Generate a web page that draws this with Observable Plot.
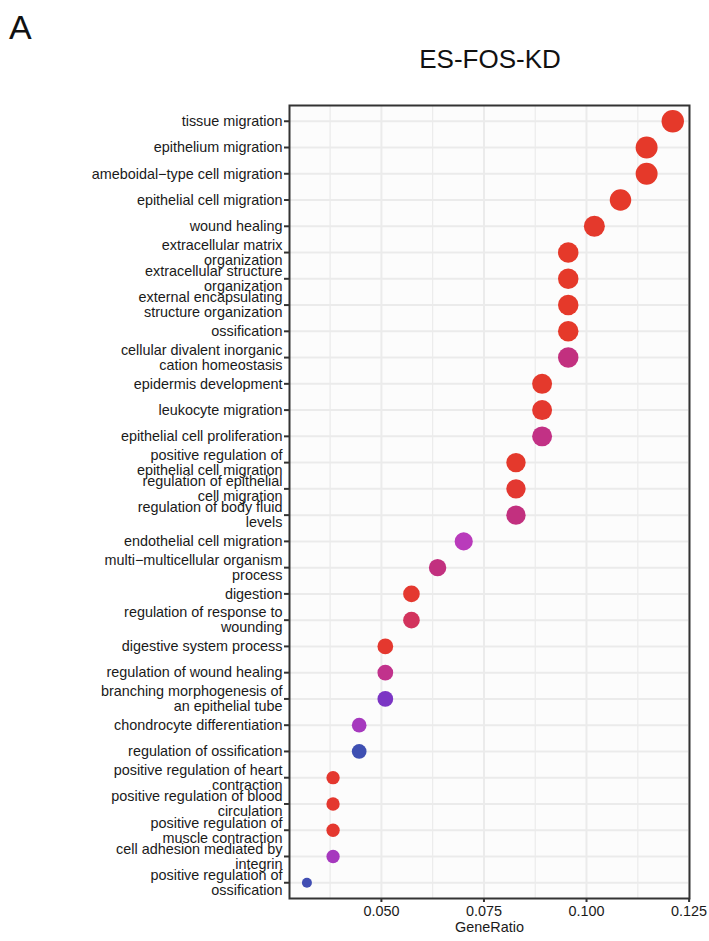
<!DOCTYPE html>
<html>
<head>
<meta charset="utf-8">
<script src="https://cdn.jsdelivr.net/npm/d3@7"></script>
<script src="https://cdn.jsdelivr.net/npm/@observablehq/plot@0.6"></script>
<style>
  body { margin: 0; background: #fff; font-family: "Liberation Sans", Arial, sans-serif; }
  #wrap { position: relative; width: 709px; }
  #head { position: relative; height: 90px; }
  #tag { position: absolute; left: 9px; top: 10px; font-size: 34px; line-height: 1; color: #111; }
  #title { position: absolute; left: 290px; width: 400px; top: 46px; text-align: center;
           font-size: 26px; line-height: 1; color: #111; }
</style>
</head>
<body>
<div id="wrap">
  <div id="head">
    <div id="tag">A</div>
    <div id="title">ES-FOS-KD</div>
  </div>
  <div id="chart"></div>
</div>
<script>
// GO terms (top to bottom), wrapped the way they appear on the axis
const terms = [
  "tissue migration",
  "epithelium migration",
  "ameboidal\u2212type cell migration",
  "epithelial cell migration",
  "wound healing",
  "extracellular matrix\norganization",
  "extracellular structure\norganization",
  "external encapsulating\nstructure organization",
  "ossification",
  "cellular divalent inorganic\ncation homeostasis",
  "epidermis development",
  "leukocyte migration",
  "epithelial cell proliferation",
  "positive regulation of\nepithelial cell migration",
  "regulation of epithelial\ncell migration",
  "regulation of body fluid\nlevels",
  "endothelial cell migration",
  "multi\u2212multicellular organism\nprocess",
  "digestion",
  "regulation of response to\nwounding",
  "digestive system process",
  "regulation of wound healing",
  "branching morphogenesis of\nan epithelial tube",
  "chondrocyte differentiation",
  "regulation of ossification",
  "positive regulation of heart\ncontraction",
  "positive regulation of blood\ncirculation",
  "positive regulation of\nmuscle contraction",
  "cell adhesion mediated by\nintegrin",
  "positive regulation of\nossification"
];

// genes hit per term (GeneRatio = count / total)
const counts = [19, 18, 18, 17, 16, 15, 15, 15, 15, 15,
                14, 14, 14, 13, 13, 13, 11, 10, 9, 9,
                8, 8, 8, 7, 7, 6, 6, 6, 6, 5];
const totalGenes = 157;

// adjusted p-values
const padj = [0.0004, 0.0004, 0.0004, 0.0004, 0.0005, 0.0004, 0.0004, 0.0004, 0.0004, 0.0047,
              0.0005, 0.0006, 0.0050, 0.0005, 0.0007, 0.0047, 0.0078, 0.0047, 0.0006, 0.0029,
              0.0006, 0.0054, 0.0103, 0.0086, 0.0128, 0.0006, 0.0006, 0.0006, 0.0086, 0.0127];

// p.adjust colour stops, low (red) to high (blue)
const padjStops = [0.0004, 0.0047, 0.0078, 0.0103, 0.0128];
const padjColors = ["#E5392A", "#C2307F", "#B93BBB", "#7B35C4", "#3E4FB2"];

const xTicks = [0.050, 0.075, 0.100, 0.125];
const xMinor = [0.0375, 0.0625, 0.0875, 0.1125];

const rows = terms.map((term, i) => ({
  term, count: counts[i], ratio: counts[i] / totalGenes, padj: padj[i]
}));
const [cMin, cMax] = d3.extent(counts);

const chart = Plot.plot({
  width: 709,
  height: 851,
  marginTop: 15,
  marginBottom: 43,
  marginLeft: 289,
  marginRight: 20,
  style: { fontFamily: "'Liberation Sans', Arial, sans-serif", fontSize: "14.4px", color: "#1a1a1a", background: "#fff" },
  x: { domain: [0.0276, 0.1251] },
  y: { type: "point", domain: terms, padding: 0.6, round: false },
  r: { type: "linear", transform: c => Math.sqrt((c - cMin) / (cMax - cMin)), domain: [0, 1], range: [5, 11.2] },
  color: { type: "linear", domain: padjStops, range: padjColors, interpolate: "lab" },
  marks: [
    Plot.frame({ fill: "#FCFCFC" }),
    Plot.ruleX(xMinor, { stroke: "#EBEBEB", strokeWidth: 1.2 }),
    Plot.ruleX(xTicks, { stroke: "#EBEBEB", strokeWidth: 2 }),
    Plot.ruleY(terms, { stroke: "#EBEBEB", strokeWidth: 2 }),
    Plot.dot(rows, { x: "ratio", y: "term", r: "count", fill: "padj" }),
    Plot.frame({ stroke: "#333", strokeWidth: 2 }),
    Plot.axisY({ tickSize: 5, tickPadding: 2, stroke: "#333", strokeWidth: 2, label: null, lineHeight: 1.04 }),
    Plot.axisX({ ticks: xTicks, tickFormat: d3.format(".3f"), tickSize: 4, tickPadding: 3,
                 stroke: "#333", strokeWidth: 2, label: "GeneRatio", labelAnchor: "center",
                 labelArrow: "none", labelOffset: 33 })
  ]
});
document.getElementById("chart").appendChild(chart);
</script>
</body>
</html>
